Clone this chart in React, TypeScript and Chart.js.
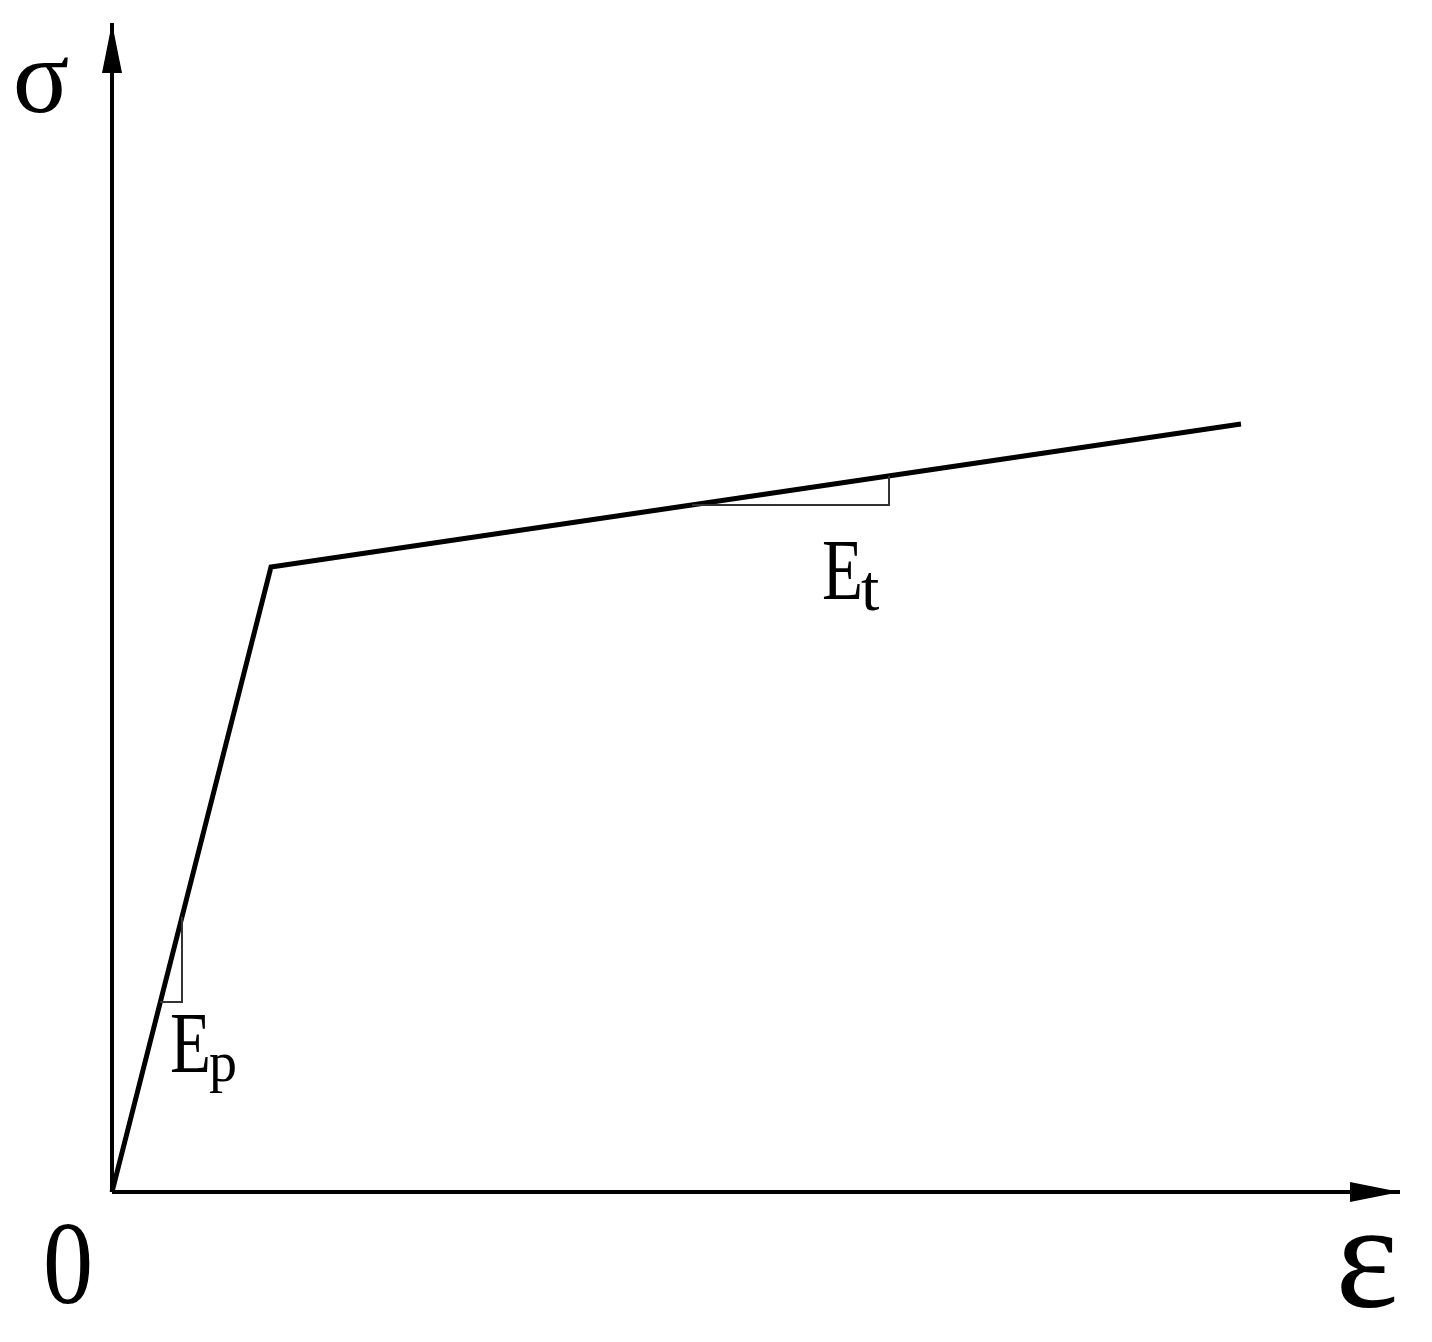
import React, { useEffect, useRef } from "react";
import { Chart, registerables } from "chart.js";

Chart.register(...registerables);

// Bilinear stress-strain curve (arbitrary units, strain vs stress)
const curveStrain = [0, 159, 1129];
const curveStress = [0, 625, 768];

// Axes (drawn as lines with arrow heads)
const yAxisStrain = [0, 0];
const yAxisStress = [0, 1169];
const xAxisStrain = [0, 1288];
const xAxisStress = [0, 0];

// Slope triangles
const epTriStrain = [48, 70, 70];
const epTriStress = [190, 190, 275];
const etTriStrain = [580, 777, 777];
const etTriStress = [687, 687, 716];

const xMin = 0;
const xMax = 1288;
const yMin = 0;
const yMax = 1169;

const toPts = (xs: number[], ys: number[]) => xs.map((x, i) => ({ x, y: ys[i] }));

const labelsPlugin = {
  id: "labelsPlugin",
  afterDatasetsDraw(chart: any) {
    const { ctx, scales } = chart;
    const xs = scales.x;
    const ys = scales.y;
    const px = (v: number) => xs.getPixelForValue(v);
    const py = (v: number) => ys.getPixelForValue(v);
    ctx.save();
    ctx.fillStyle = "#000";
    // arrow heads
    const yTop = py(yAxisStress[1]);
    const xAx = px(yAxisStrain[0]);
    ctx.beginPath();
    ctx.moveTo(xAx, yTop);
    ctx.lineTo(xAx - 10, yTop + 50);
    ctx.lineTo(xAx + 10, yTop + 50);
    ctx.closePath();
    ctx.fill();
    const xRight = px(xAxisStrain[1]);
    const yAx = py(xAxisStress[0]);
    ctx.beginPath();
    ctx.moveTo(xRight, yAx);
    ctx.lineTo(xRight - 50, yAx - 10);
    ctx.lineTo(xRight - 50, yAx + 10);
    ctx.closePath();
    ctx.fill();

    ctx.textBaseline = "alphabetic";
    const serif = "'Liberation Serif', 'DejaVu Serif', serif";
    ctx.textAlign = "center";
    ctx.font = `105px ${serif}`;
    ctx.fillText("σ", px(-71), py(1080));
    ctx.font = `118px ${serif}`;
    ctx.save();
    ctx.translate(px(-44), py(-111));
    ctx.scale(0.85, 1);
    ctx.fillText("0", 0, 0);
    ctx.restore();
    ctx.font = `150px ${serif}`;
    ctx.fillText("ε", px(1255), py(-115));

    ctx.textAlign = "left";
    // E_p
    ctx.save();
    ctx.translate(px(58), py(120));
    ctx.scale(0.78, 1);
    ctx.font = `86px ${serif}`;
    ctx.fillText("E", 0, 0);
    ctx.restore();
    ctx.font = `56px ${serif}`;
    ctx.fillText("p", px(97), py(111));
    // E_t
    ctx.save();
    ctx.translate(px(710), py(593));
    ctx.scale(0.78, 1);
    ctx.font = `86px ${serif}`;
    ctx.fillText("E", 0, 0);
    ctx.restore();
    ctx.font = `66px ${serif}`;
    ctx.fillText("t", px(749), py(582));
    ctx.restore();
  },
};

export default function App() {
  const ref = useRef<HTMLCanvasElement>(null);
  useEffect(() => {
    if (!ref.current) return;
    const line = (xs: number[], ys: number[], w: number, color = "#000") => ({
      data: toPts(xs, ys),
      borderColor: color,
      borderWidth: w,
      pointRadius: 0,
      fill: false,
      tension: 0,
      clip: false as any,
      borderJoinStyle: "miter" as const,
    });
    const chart = new Chart(ref.current, {
      type: "line",
      data: {
        datasets: [
          line(yAxisStrain, yAxisStress, 4),
          line(xAxisStrain, xAxisStress, 4),
          line(epTriStrain, epTriStress, 2, "#333"),
          line(etTriStrain, etTriStress, 2, "#333"),
          line(curveStrain, curveStress, 5),
        ],
      },
      options: {
        animation: false,
        responsive: false,
        maintainAspectRatio: false,
        layout: { padding: { left: 112, right: 32, top: 23, bottom: 150 } },
        plugins: { legend: { display: false }, tooltip: { enabled: false } },
        scales: {
          x: { type: "linear", min: xMin, max: xMax, display: false },
          y: { type: "linear", min: yMin, max: yMax, display: false },
        },
      },
      plugins: [labelsPlugin],
    });
    return () => chart.destroy();
  }, []);
  return (
    <div style={{ position: "fixed", left: 0, top: 0, width: 1432, height: 1342, background: "#fff" }}>
      <canvas ref={ref} width={1432} height={1342} style={{ width: 1432, height: 1342 }} />
    </div>
  );
}
